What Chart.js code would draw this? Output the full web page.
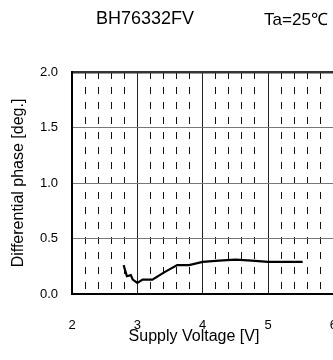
<!DOCTYPE html>
<html>
<head>
<meta charset="utf-8">
<script src="https://cdn.jsdelivr.net/npm/chart.js@4.4.1/dist/chart.umd.min.js"></script>
<style>
  html, body { margin: 0; padding: 0; background: #fff; overflow: hidden; }
  #wrap { width: 361px; height: 360px; }
</style>
</head>
<body>
<div id="wrap">
  <canvas id="phaseChart" width="361" height="360"></canvas>
</div>
<script>
// values
const voltage = [2.79, 2.84, 2.90, 2.93, 3.00, 3.08, 3.23, 3.41, 3.61, 3.79, 4.00, 4.25, 4.50, 4.75, 5.00, 5.25, 5.53];
const phase   = [0.26, 0.16, 0.17, 0.13, 0.10, 0.13, 0.13, 0.195, 0.26, 0.26, 0.29, 0.30, 0.31, 0.30, 0.29, 0.29, 0.29];

const xTicks = [2, 3, 4, 5, 6];
const yTicks = [0.0, 0.5, 1.0, 1.5, 2.0];

const chartTitle = "BH76332FV";
const condition = "Ta=25℃";
const xLabel = "Supply Voltage [V]";
const yLabel = "Differential phase [deg.]";

const FONT = "'Liberation Sans', Arial, sans-serif";

// titles on top and x axis caption
const textPlugin = {
    id: 'textPlugin',
    afterDraw(chart) {
        const ctx = chart.ctx;
        ctx.save();
        ctx.fillStyle = '#000';
        ctx.textAlign = 'center';
        ctx.textBaseline = 'middle';
        ctx.font = "18px " + FONT;
        ctx.fillText(chartTitle, 145, 19);
        ctx.font = "17px " + FONT;
        ctx.fillText(condition, 296, 20);
        ctx.font = "16px " + FONT;
        ctx.fillText(xLabel, 194, 337);
        ctx.restore();
    }
};

const CHART = document.getElementById("phaseChart");
let phaseChart = new Chart(CHART, {
    type: 'line',
    data: {
        datasets: [
            {
            label: "Differential phase",
            data: voltage.map((v, i) => ({x: v, y: phase[i]})),
            borderColor: "#000",
            borderWidth: 2.2,
            pointRadius: 0,
            fill: false,
            tension: 0
        }
        ]
    },
    options: {
        responsive: false,
        animation: false,
        layout: { padding: { top: 72, left: 0, right: 9, bottom: 0 } },
        plugins: { legend: { display: false }, tooltip: { enabled: false } },
        scales: {
            x: {
                type: 'linear',
                position: 'bottom',
                min: 2, max: 6,
                afterBuildTicks: (s) => { s.ticks = xTicks.map(v => ({value: v})); },
                afterFit: (s) => { s.height = 66; },
                ticks: {
                    color: '#000',
                    font: { family: FONT, size: 13 },
                    padding: 24,
                    maxRotation: 0
                },
                grid: {
                    drawTicks: false,
                    color: (c) => (c.tick && (c.tick.value === 2) ? 'rgba(0,0,0,0)' : '#222'),
                    lineWidth: 1
                },
                border: { color: '#000', width: 2 }
            },
            xMinor: {
                type: 'linear',
                position: 'top',
                min: 2, max: 6,
                afterBuildTicks: (s) => {
                    const t = [];
                    for (let k = 10; k <= 30; k++) t.push({value: k / 5});
                    s.ticks = t;
                },
                afterFit: (s) => { s.height = 0; },
                ticks: { display: false },
                grid: {
                    drawTicks: false,
                    color: (c) => (c.tick && Math.abs(c.tick.value - Math.round(c.tick.value)) < 1e-6 ? 'rgba(0,0,0,0)' : '#111'),
                    lineWidth: 1
                },
                border: { display: false, dash: [7, 8] }
            },
            y: {
                type: 'linear',
                min: 0, max: 2,
                afterBuildTicks: (s) => { s.ticks = yTicks.map(v => ({value: v})); },
                afterFit: (s) => { s.width = 72; },
                ticks: {
                    color: '#000',
                    font: { family: FONT, size: 13 },
                    padding: 14,
                    callback: (v) => Number(v).toFixed(1)
                },
                title: {
                    display: true,
                    text: yLabel,
                    color: '#000',
                    font: { family: FONT, size: 16 },
                    padding: { top: 9, bottom: 0 }
                },
                grid: {
                    drawTicks: false,
                    color: (c) => {
                        if (!c.tick) return '#777';
                        if (c.tick.value === 0) return 'rgba(0,0,0,0)';
                        if (c.tick.value === 2) return '#333';
                        return '#777';
                    },
                    lineWidth: (c) => (c.tick && c.tick.value === 2 ? 2.5 : 1)
                },
                border: { color: '#000', width: 2 }
            }
        }
    },
    plugins: [textPlugin]
});
</script>
</body>
</html>
